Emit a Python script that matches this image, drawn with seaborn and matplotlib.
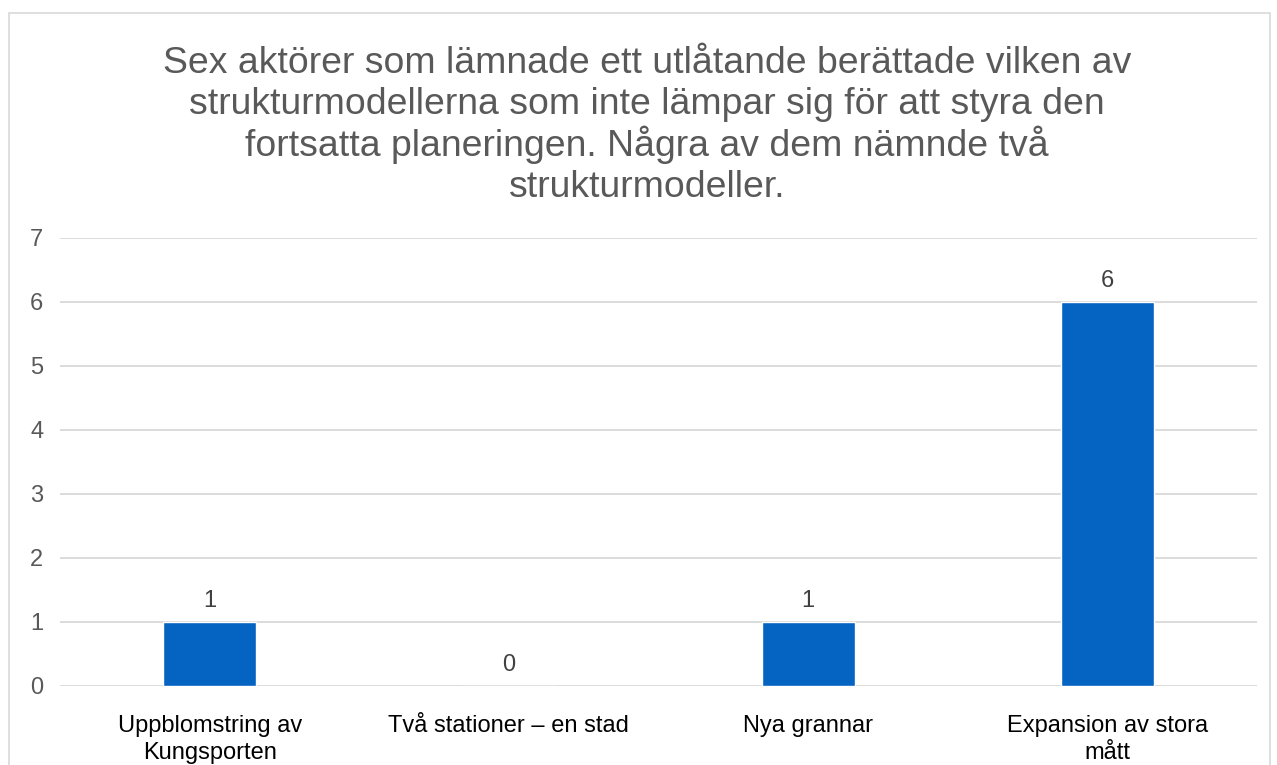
import matplotlib
matplotlib.use('Agg')
import matplotlib.pyplot as plt
import matplotlib.patches as mpatches
import seaborn as sns
import pandas as pd

# Data
categories = ['Uppblomstring av\nKungsporten', 'Två stationer – en stad',
              'Nya grannar', 'Expansion av stora\nmått']
counts = [1, 0, 1, 6]
y_ticks = [0, 1, 2, 3, 4, 5, 6, 7]
title_lines = ['Sex aktörer som lämnade ett utlåtande berättade vilken av',
               'strukturmodellerna som inte lämpar sig för att styra den',
               'fortsatta planeringen. Några av dem nämnde två',
               'strukturmodeller.']

BAR_CLR = '#0563C1'
GRID_CLR = '#D9D9D9'
TXT_CLR = '#595959'

sns.set_theme(style='white')
plt.rcParams['font.family'] = ['Liberation Sans', 'DejaVu Sans']

df = pd.DataFrame({'cat': categories, 'n': counts})

fig = plt.figure(figsize=(12.77, 7.65), dpi=100)
ax = fig.add_axes([60 / 1277, 1 - 686 / 765, 1197 / 1277, 448 / 765])

sns.barplot(data=df, x='cat', y='n', color=BAR_CLR, width=0.31,
            saturation=1, ax=ax, zorder=3)

ax.set_ylim(0, 7)
ax.set_yticks(y_ticks)
ax.yaxis.grid(True, color=GRID_CLR, linewidth=1.3, zorder=0)
ax.set_axisbelow(True)
for s in ax.spines.values():
    s.set_visible(False)
ax.set_xlabel('')
ax.set_ylabel('')
ax.tick_params(axis='y', length=0, pad=12, labelsize=17, labelcolor=TXT_CLR)
ax.tick_params(axis='x', length=0, pad=21, labelsize=17, labelcolor='#000000')
for lbl in ax.get_xticklabels():
    lbl.set_linespacing(1.3)

for i, v in enumerate(counts):
    ax.annotate(str(v), (i, v), xytext=(0, 7), textcoords='offset points',
                ha='center', va='bottom', fontsize=17, color='#404040')

# title, one line at a time for even spacing
for k, line in enumerate(title_lines):
    fig.text(647 / 1277, 1 - (73 + 41.3 * k) / 765, line, ha='center', va='baseline',
             fontsize=26.9, color=TXT_CLR)

# outer chart border
fig.patches.append(mpatches.Rectangle((9 / 1277, -0.05), 1261 / 1277, 1.05 - 13 / 765,
                                      transform=fig.transFigure, fill=False,
                                      edgecolor='#D9D9D9', linewidth=1.2))

fig.savefig('out.png', dpi=100)
